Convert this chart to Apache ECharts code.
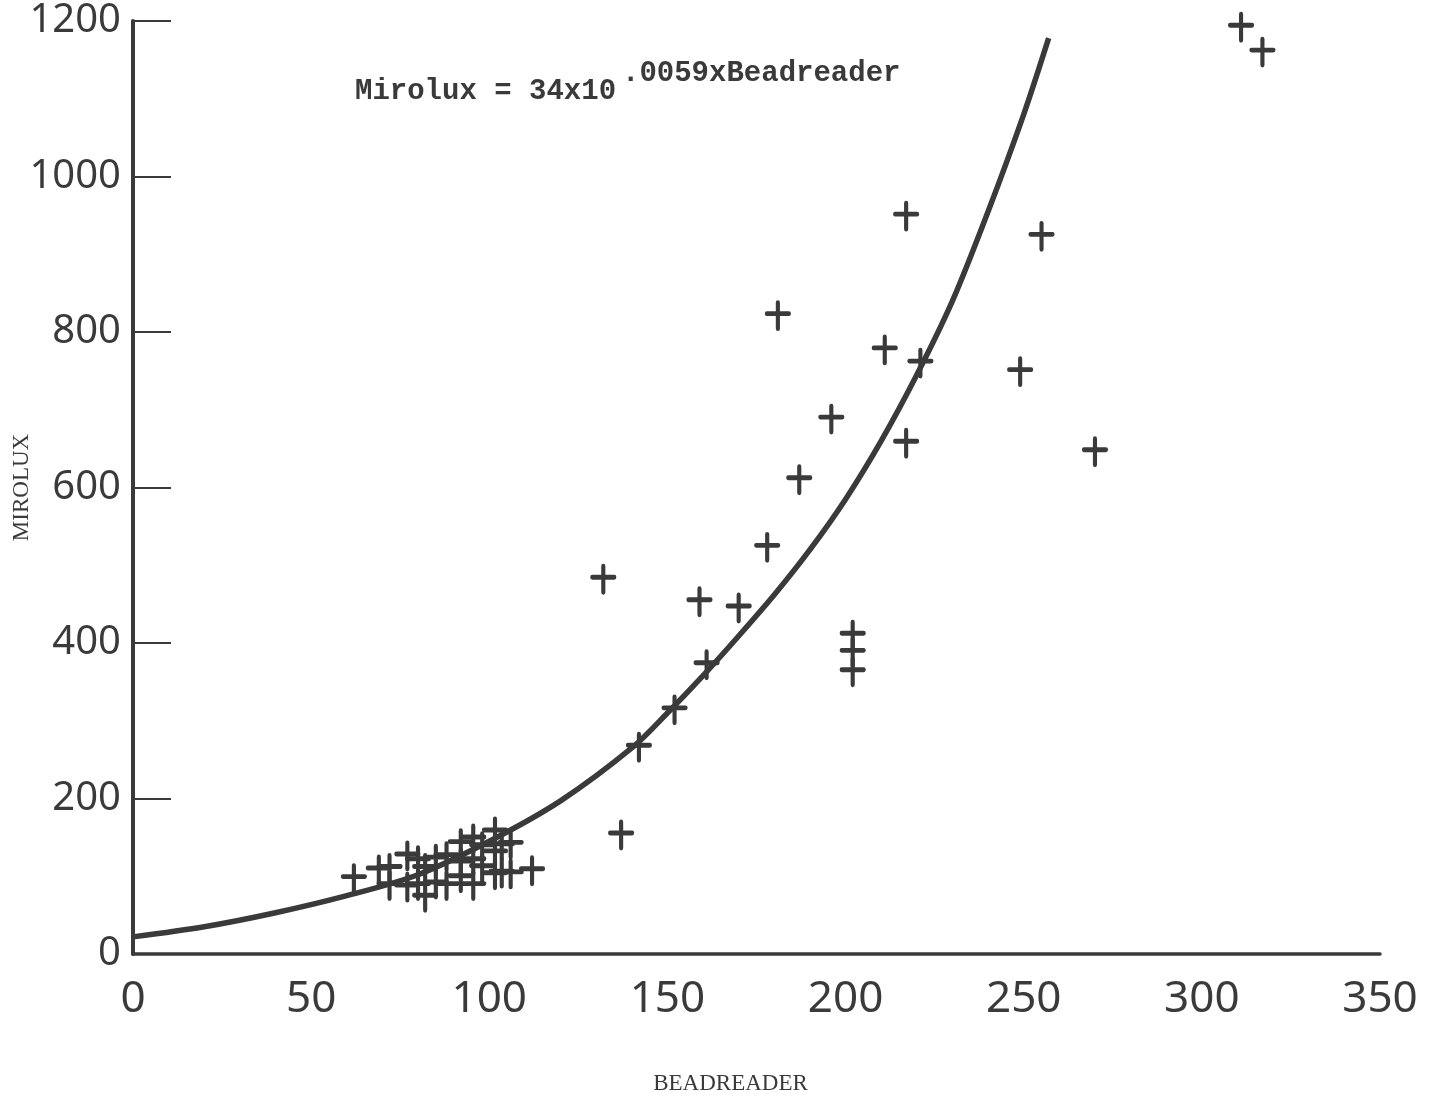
<!DOCTYPE html>
<html>
<head>
<meta charset="utf-8">
<script src="https://cdn.jsdelivr.net/npm/echarts@6/dist/echarts.min.js"></script>
<style>
html,body{margin:0;padding:0;background:#fff;}
#chart{width:1440px;height:1101px;}
</style>
</head>
<body>
<div id="chart"></div>
<script>
// Scatter observations: Beadreader (x) vs Mirolux (y)
const beadreader = [
  311, 317, 217, 255, 181, 211, 221, 249, 196, 217, 187, 270, 178, 132, 159, 170,
  202, 202, 202, 161, 152, 142, 137,
  62, 69, 72, 72, 77, 77, 80, 80, 82, 82, 85, 85, 88, 88,
  92, 92, 92, 95.5, 95.5, 95.5, 98, 98, 101.6, 101.6, 101.6, 103.5, 103.5, 106, 106, 112
];
const mirolux = [
  1192, 1160, 949, 923, 821, 777, 760, 749, 688, 657, 610, 646, 523, 482, 453, 445,
  410, 388, 363, 372, 314, 266, 153,
  97, 108, 110, 88, 126, 86, 120, 88, 110, 73, 122, 90, 125, 88,
  142, 117, 98, 148, 120, 88, 138, 111, 157, 130, 102, 139, 104, 141, 103, 107
];
// Fitted curve
const curveX = [0, 20, 40, 60, 80, 100, 120, 140, 150, 160, 170, 180, 190, 200, 210, 220, 230, 240, 250, 257];
const curveY = [22, 35, 53, 75, 102, 145, 197, 265, 310, 358, 409, 462, 520, 585, 660, 745, 840, 955, 1080, 1178];
// Axis ticks
const xTicks = [0, 50, 100, 150, 200, 250, 300, 350];
const yTicks = [0, 200, 400, 600, 800, 1000, 1200];

const points = beadreader.map((x, i) => [x, mirolux[i]]);
const curve = curveX.map((x, i) => [x, curveY[i]]);
const ink = '#3a3a3a';

const chart = echarts.init(document.getElementById('chart'), null, {renderer: 'canvas'});
chart.setOption({
  backgroundColor: '#ffffff',
  animation: false,
  grid: {left: 133, right: 60, top: 21, bottom: 147, containLabel: false, outerBoundsMode: 'none'},
  xAxis: {
    type: 'value',
    min: xTicks[0], max: xTicks[xTicks.length - 1], interval: 50,
    name: 'BEADREADER',
    nameLocation: 'middle',
    nameGap: 118,
    nameMoveOverlap: false,
    nameTextStyle: {fontFamily: '"Liberation Serif", serif', fontSize: 23, color: ink, padding: [0, 52, 0, 0]},
    axisLine: {show: true, lineStyle: {color: ink, width: 3.5}},
    axisTick: {show: false},
    splitLine: {show: false},
    axisLabel: {fontFamily: '"Noto Sans", sans-serif', fontSize: 44, color: ink, margin: 23,
      formatter: v => String(v)}
  },
  yAxis: {
    type: 'value',
    min: yTicks[0], max: yTicks[yTicks.length - 1], interval: 200,
    name: 'MIROLUX',
    nameLocation: 'middle',
    nameRotate: 90,
    nameGap: 100,
    nameMoveOverlap: false,
    nameTextStyle: {fontFamily: '"Liberation Serif", serif', fontSize: 23, color: ink},
    axisLine: {show: true, lineStyle: {color: ink, width: 4}},
    axisTick: {show: true, inside: true, length: 38, lineStyle: {color: ink, width: 2}},
    splitLine: {show: false},
    axisLabel: {fontFamily: '"Noto Sans", sans-serif', fontSize: 40, color: ink, margin: 12, padding: [14, 0, 0, 0],
      formatter: v => String(v)}
  },
  graphic: [
    {type: 'text', left: 355, top: 77, style: {text: 'Mirolux = 34x10', font: 'bold 29px "Liberation Mono", monospace', fill: ink}},
    {type: 'text', left: 622, top: 59, style: {text: '.0059xBeadreader', font: 'bold 29px "Liberation Mono", monospace', fill: ink}}
  ],
  series: [
    {
      type: 'line',
      data: curve,
      smooth: 0.3,
      showSymbol: false,
      lineStyle: {color: ink, width: 5.5},
      silent: true,
      z: 2
    },
    {
      type: 'scatter',
      data: points,
      symbol: 'path://M11,0 L11,26 M0,11 L22,11',
      symbolSize: [22, 26],
      itemStyle: {color: ink, borderColor: ink, borderWidth: 4.5, borderCap: 'round', opacity: 1},
      silent: true,
      z: 3
    }
  ]
});
</script>
</body>
</html>
